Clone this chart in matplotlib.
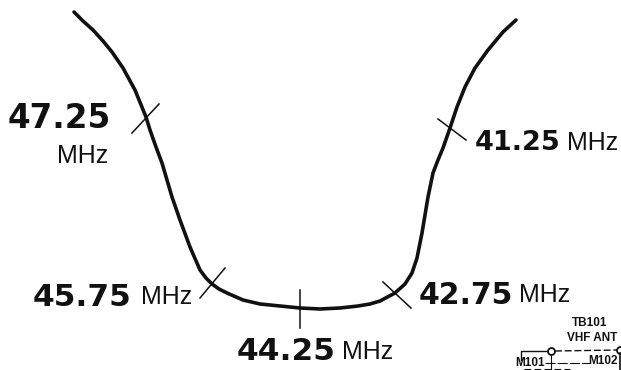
import matplotlib
matplotlib.use("Agg")
import matplotlib.pyplot as plt

# Curve, in image pixels
curve_x = [74, 83, 93, 103, 112, 123, 135, 146, 150, 156, 162, 167, 172, 180, 190, 200, 206, 212,
           219, 227, 243, 260, 280, 300, 320, 340, 358, 370, 380, 395, 405, 412, 417, 422, 428,
           433, 438, 443, 450, 457, 465, 475, 488, 503, 516]
curve_y = [12, 21, 30, 41, 52, 68, 90, 117, 130, 147, 163, 180, 197, 220, 247, 270, 278, 284,
           289, 293, 300, 304, 306, 308, 309, 308, 306, 304, 301, 293, 284, 273, 258, 233, 197,
           173, 160, 148, 128, 107, 87, 68, 50, 32, 20]

# Tick marks across the curve
mark_x0 = [132, 200, 300, 383, 438]
mark_y0 = [133, 298, 290, 282, 119]
mark_x1 = [159, 225, 300, 411, 466]
mark_y1 = [104, 268, 328, 308, 140]

freq_labels = ["47.25", "45.75", "44.25", "42.75", "41.25"]
freq_x = [8, 33, 237, 419, 475]
freq_y = [118, 297, 352, 295, 143]
freq_size = [23.5, 22.5, 22.5, 21.5, 19.5]
unit_x = [57, 141, 342, 519, 567]
unit_y = [156, 297, 352, 295, 143]

# Scrap of schematic at the bottom right
schem_labels = ["TB101", "VHF ANT", "M101", "M102"]
schem_x = [590, 592, 530, 603]
schem_y = [323, 338, 363, 361]

INK = "#111111"

fig = plt.figure(figsize=(6.21, 3.70), dpi=100)
ax = fig.add_axes([0, 0, 1, 1])
ax.set_xlim(0, 621)
ax.set_ylim(370, 0)
ax.axis("off")

ax.plot(curve_x, curve_y, color=INK, lw=2.6, solid_capstyle="round", solid_joinstyle="round")

for x0, y0, x1, y1 in zip(mark_x0, mark_y0, mark_x1, mark_y1):
    ax.plot([x0, x1], [y0, y1], color=INK, lw=1.1)

for label, x, y, size in zip(freq_labels, freq_x, freq_y, freq_size):
    ax.text(x, y, label, fontsize=size, fontweight="bold", family="DejaVu Sans", color=INK,
            ha="left", va="center")
for x, y in zip(unit_x, unit_y):
    ax.text(x, y, "MHz", fontsize=18, family="Liberation Sans", color=INK, ha="left", va="center")

for label, x, y in zip(schem_labels, schem_x, schem_y):
    ax.text(x, y, label, fontsize=8.5, family="Liberation Sans", fontweight="bold", color=INK,
            ha="center", va="center")

# schematic wiring
ax.plot([521, 521, 550], [360, 351, 351], color=INK, lw=1.0)
ax.plot([555, 618], [351, 350], color=INK, lw=1.0, ls=(0, (5, 2)))
ax.plot([545, 590], [363, 363], color=INK, lw=0.8, ls=(0, (9, 2)))
ax.plot([551, 551], [354, 370], color=INK, lw=0.8)
ax.plot([524, 570], [369, 369], color=INK, lw=0.8, ls=(0, (6, 3)))
ax.plot([551], [351], marker="o", ms=5, mfc="white", mec=INK, mew=1.3)
ax.plot([620], [350], marker="o", ms=5, mfc="white", mec=INK, mew=1.3)
ax.plot([620, 620], [353, 370], color=INK, lw=1.2)

fig.savefig("out.png", dpi=100)
